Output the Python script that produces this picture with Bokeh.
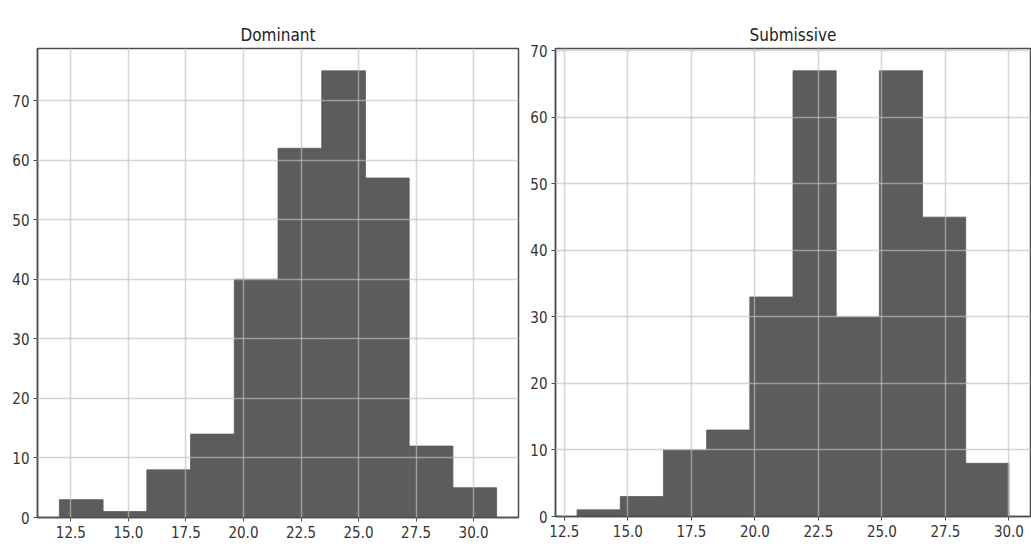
from bokeh.plotting import figure
from bokeh.layouts import row
from bokeh.models import FixedTicker, NumeralTickFormatter
from bokeh.embed import file_html
from bokeh.resources import INLINE

# Histogram bin edges and counts for each group
dominant_edges = [12.0, 13.9, 15.8, 17.7, 19.6, 21.5, 23.4, 25.3, 27.2, 29.1, 31.0]
dominant_counts = [3, 1, 8, 14, 40, 62, 75, 57, 12, 5]

submissive_edges = [13.0, 14.7, 16.4, 18.1, 19.8, 21.5, 23.2, 24.9, 26.6, 28.3, 30.0]
submissive_counts = [1, 3, 10, 13, 33, 67, 30, 67, 45, 8]

x_ticks = [12.5, 15.0, 17.5, 20.0, 22.5, 25.0, 27.5, 30.0]
y_ticks = [0, 10, 20, 30, 40, 50, 60, 70]

FONT = "DejaVu Sans Condensed"
BAR = "#5c5c5c"
FRAME = "#4d4d4d"


def histogram(title, edges, counts, frame_w, frame_h, borders):
    lo, hi = edges[0], edges[-1]
    pad = 0.05 * (hi - lo)
    top = max(counts) * 1.05
    left_b, right_b, top_b, bottom_b = borders
    p = figure(
        title=title,
        frame_width=frame_w,
        frame_height=frame_h,
        min_border_left=left_b,
        min_border_right=right_b,
        min_border_top=top_b,
        min_border_bottom=bottom_b,
        x_range=(lo - pad, hi + pad),
        y_range=(0, top),
        output_backend="svg",
        toolbar_location=None,
    )
    # stroke in the fill colour so adjacent bars join without seams
    p.quad(left=edges[:-1], right=edges[1:], bottom=0, top=counts,
           fill_color=BAR, line_color=BAR, line_width=0.8)

    p.title.align = "center"
    p.title.text_font = FONT
    p.title.text_font_size = "17px"
    p.title.text_font_style = "normal"
    p.title.text_color = "#222222"
    p.title.standoff = 8

    p.xaxis.ticker = FixedTicker(ticks=x_ticks)
    p.yaxis.ticker = FixedTicker(ticks=y_ticks)
    p.xaxis.formatter = NumeralTickFormatter(format="0.0")
    for ax in (p.xaxis, p.yaxis):
        ax.major_label_text_font = FONT
        ax.major_label_text_font_size = "15px"
        ax.major_label_text_color = "#333333"
        ax.axis_line_color = FRAME
        ax.axis_line_width = 1.5
        ax.major_tick_line_color = FRAME
        ax.major_tick_out = 4
        ax.major_tick_in = 0
        ax.minor_tick_line_color = None
    p.xaxis.major_label_standoff = 4
    p.yaxis.major_label_standoff = 4

    p.grid.grid_line_color = "#c0c0c0"
    p.grid.grid_line_alpha = 0.65
    p.grid.grid_line_width = 1.5
    p.grid.level = "overlay"

    p.outline_line_color = FRAME
    p.outline_line_width = 1.5
    p.outline_line_alpha = 1.0
    p.background_fill_color = "white"
    p.border_fill_color = "white"
    return p


left = histogram("Dominant", dominant_edges, dominant_counts,
                 481, 469, (37, 2, 42, 37))
right = histogram("Submissive", submissive_edges, submissive_counts,
                  475, 468, (35, 1, 48, 32))

page = row(left, right, spacing=0)
open("out.html", "w").write(file_html(page, INLINE))
